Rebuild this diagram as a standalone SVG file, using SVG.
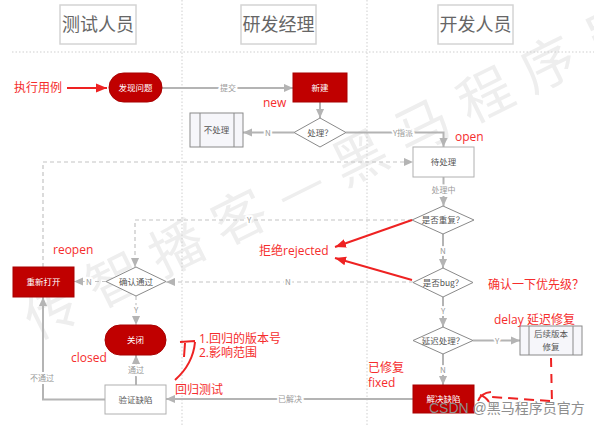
<svg xmlns="http://www.w3.org/2000/svg" width="594" height="426" viewBox="0 0 594 426">
<defs>
<style>
.lane{stroke:#cfcfcf;stroke-width:1;stroke-dasharray:1.5 2;fill:none}
.hdr{fill:#fff;stroke:#d4d4d4;stroke-width:1.5}
.hdrt{font-family:"Noto Sans CJK SC",sans-serif;font-size:18px;fill:#666;text-anchor:middle}
.rn{fill:#c00000;stroke:#a80000;stroke-width:1}
.wn{fill:#fff;stroke:#b0b0b0;stroke-width:1}
.dm{fill:#fff;stroke:#8a8a8a;stroke-width:1}
.sub{fill:#f6f6fa;stroke:#8a8a8a;stroke-width:1}
.nt{font-family:"Noto Sans CJK SC",sans-serif;font-size:8.5px;fill:#555;text-anchor:middle}
.wt{fill:#fff}
.c{stroke:#b4b4b4;stroke-width:2;fill:none}
.d{stroke:#c4c4c4;stroke-width:1.2;stroke-dasharray:4 3;fill:none}
.lbl{font-family:"Noto Sans CJK SC",sans-serif;font-size:8px;fill:#999;text-anchor:middle;paint-order:stroke;stroke:#fff;stroke-width:4px;stroke-linejoin:round}
.ann{font-family:"Open Sans","Noto Sans CJK SC",sans-serif;font-size:12px;fill:#f52d2d}
.r{stroke:#ee2222;stroke-width:2;fill:none}
.wm{font-family:"Noto Sans CJK SC",sans-serif;font-size:54px;fill:#eeeeee;letter-spacing:16px}
</style>
<marker id="ga" viewBox="0 0 10 10" refX="10" refY="5" markerWidth="9" markerHeight="9" markerUnits="userSpaceOnUse" orient="auto">
<path d="M0,0.5 L10,5 L0,9.5 z" fill="#b4b4b4"/>
</marker>
<marker id="ra" viewBox="0 0 10 10" refX="10" refY="5" markerWidth="11" markerHeight="11" markerUnits="userSpaceOnUse" orient="auto">
<path d="M0,1 L10,5 L0,9 z" fill="#ee2222"/>
</marker>
</defs>
<rect width="594" height="426" fill="#fff"/>
<text class="wm" transform="translate(36,340) rotate(-26.4)">传智播客—黑马程序员</text>

<g id="lanes">
<line class="lane" x1="182" y1="0" x2="182" y2="426"/>
<line class="lane" x1="367" y1="0" x2="367" y2="426"/>
<line class="lane" x1="12" y1="52" x2="594" y2="52"/>
</g>

<g id="hdr-tester"><rect class="hdr" x="60" y="5" width="76" height="39"/><text class="hdrt" x="98" y="31">测试人员</text></g>
<g id="hdr-manager"><rect class="hdr" x="241" y="5" width="75" height="39"/><text class="hdrt" x="278.5" y="31">研发经理</text></g>
<g id="hdr-dev"><rect class="hdr" x="438" y="5" width="75" height="39"/><text class="hdrt" x="475.5" y="31">开发人员</text></g>

<g id="connectors">
<path class="c" d="M162,88 H293" marker-end="url(#ga)"/>
<path class="c" d="M320,102 V118" marker-end="url(#ga)"/>
<path class="c" d="M294,132.5 H243" marker-end="url(#ga)"/>
<path class="c" d="M346,132.5 H443.5 V147" marker-end="url(#ga)"/>
<path class="c" d="M443.5,177 V206" marker-end="url(#ga)"/>
<path class="c" d="M443,234 V268" marker-end="url(#ga)"/>
<path class="c" d="M443,297 V327" marker-end="url(#ga)"/>
<path class="c" d="M473,340.5 H520" marker-end="url(#ga)"/>
<path class="c" d="M443,354 V385" marker-end="url(#ga)"/>
<path class="c" d="M413,399 H166" marker-end="url(#ga)"/>
<path class="c" d="M136,385 V355" marker-end="url(#ga)"/>
<path class="c" d="M105,399.5 H43 V297" marker-end="url(#ga)"/>
<path class="d" d="M136,296 V325" marker-end="url(#ga)"/>
<path class="d" d="M106,281.5 H74" marker-end="url(#ga)"/>
<path class="d" d="M43,267 V162 H413" marker-end="url(#ga)"/>
<path class="d" d="M412,220 H135 V267" marker-end="url(#ga)"/>
<path class="d" d="M413,282 H166" marker-end="url(#ga)"/>
<text class="lbl" x="228" y="91">提交</text>
<text class="lbl" x="268" y="135.5">N</text>
<text class="lbl" x="403" y="135.5">Y指派</text>
<text class="lbl" x="443.5" y="193">处理中</text>
<text class="lbl" x="443" y="254">N</text>
<text class="lbl" x="443" y="314">Y</text>
<text class="lbl" x="497" y="343.5">Y</text>
<text class="lbl" x="443" y="373">N</text>
<text class="lbl" x="290" y="402">已解决</text>
<text class="lbl" x="136" y="373">通过</text>
<text class="lbl" x="42" y="381">不通过</text>
<text class="lbl" x="136" y="313">Y</text>
<text class="lbl" x="89" y="284.5">N</text>
<text class="lbl" x="249" y="223">Y</text>
<text class="lbl" x="288" y="285">N</text>
</g>

<g id="n-find"><rect class="rn" x="109" y="73" width="53" height="29" rx="14.5"/><text class="nt wt" x="135.5" y="91">发现问题</text></g>
<g id="n-new"><rect class="rn" x="293" y="73" width="54" height="29"/><text class="nt wt" x="320" y="91">新建</text></g>
<g id="n-handle"><polygon class="dm" points="294,132.5 320,118 346,132.5 320,147"/><text class="nt" x="320" y="135.5">处理？</text></g>
<g id="n-ignore"><rect class="sub" x="190" y="113" width="53" height="34"/><line class="sub" x1="200" y1="113" x2="200" y2="147"/><line class="sub" x1="234" y1="113" x2="234" y2="147"/><text class="nt" x="216.5" y="133">不处理</text></g>
<g id="n-pending"><rect class="wn" x="413" y="147" width="61" height="30"/><text class="nt" x="443.5" y="165">待处理</text></g>
<g id="n-dup"><polygon class="dm" points="412,220 443,206 474,220 443,234"/><text class="nt" x="443" y="223">是否重复？</text></g>
<g id="n-bug"><polygon class="dm" points="413,282.5 443,268 473,282.5 443,297"/><text class="nt" x="443" y="285.5">是否bug？</text></g>
<g id="n-delay"><polygon class="dm" points="413,340.5 443,327 473,340.5 443,354"/><text class="nt" x="443" y="343.5">延迟处理？</text></g>
<g id="n-later"><rect class="sub" x="520" y="326" width="62" height="29"/><line class="sub" x1="529" y1="326" x2="529" y2="355"/><line class="sub" x1="573" y1="326" x2="573" y2="355"/><text class="nt" x="551" y="337">后续版本</text><text class="nt" x="551" y="350">修复</text></g>
<g id="n-fix"><rect class="rn" x="413" y="385" width="61" height="28"/><text class="nt wt" x="443.5" y="402">解决缺陷</text></g>
<g id="n-reopen"><rect class="rn" x="13" y="267" width="61" height="30"/><text class="nt wt" x="43.5" y="285">重新打开</text></g>
<g id="n-confirm"><polygon class="dm" points="106,281.5 136,267 166,281.5 136,296"/><text class="nt" x="136" y="284.5">确认通过</text></g>
<g id="n-close"><rect class="rn" x="105" y="325" width="61" height="30" rx="15"/><text class="nt wt" x="135.5" y="343">关闭</text></g>
<g id="n-verify"><rect class="wn" x="105" y="385" width="61" height="29"/><text class="nt" x="135.5" y="402.5">验证缺陷</text></g>

<g id="annotations">
<text class="ann" x="14" y="92">执行用例</text>
<path class="r" d="M67,88 H107" marker-end="url(#ra)"/>
<text class="ann" x="263" y="107">new</text>
<text class="ann" x="455" y="141">open</text>
<text class="ann" x="53" y="254">reopen</text>
<text class="ann" x="259" y="255">拒绝rejected</text>
<path class="r" d="M412,220 L335,247" marker-end="url(#ra)"/>
<path class="r" d="M412,280 L335,258" marker-end="url(#ra)"/>
<text class="ann" x="488" y="289">确认一下优先级？</text>
<text class="ann" x="494" y="324">delay 延迟修复</text>
<text class="ann" x="368" y="372">已修复</text>
<text class="ann" x="368" y="387">fixed</text>
<text class="ann" x="71" y="362">closed</text>
<text class="ann" x="199" y="342.5">1.回归的版本号</text>
<text class="ann" x="199" y="357">2.影响范围</text>
<text class="ann" x="175" y="394">回归测试</text>
<path class="r" d="M180,342 L195,341 M185,343 L184,357 M195,342 Q193,364 175,380"/>
<path class="r" d="M551,358 L552,404" stroke-dasharray="9 7"/>
<path class="r" d="M550,401 L492,397" stroke-dasharray="10 6"/>
<path class="r" d="M491,392 Q481,393 478,401 M480,395 Q486,397 489,402"/>
</g>
<text x="429" y="413" font-family="Liberation Sans,'Noto Sans CJK SC',sans-serif" font-size="14" fill="#8e8e8e">CSDN @黑马程序员官方</text>
</svg>
